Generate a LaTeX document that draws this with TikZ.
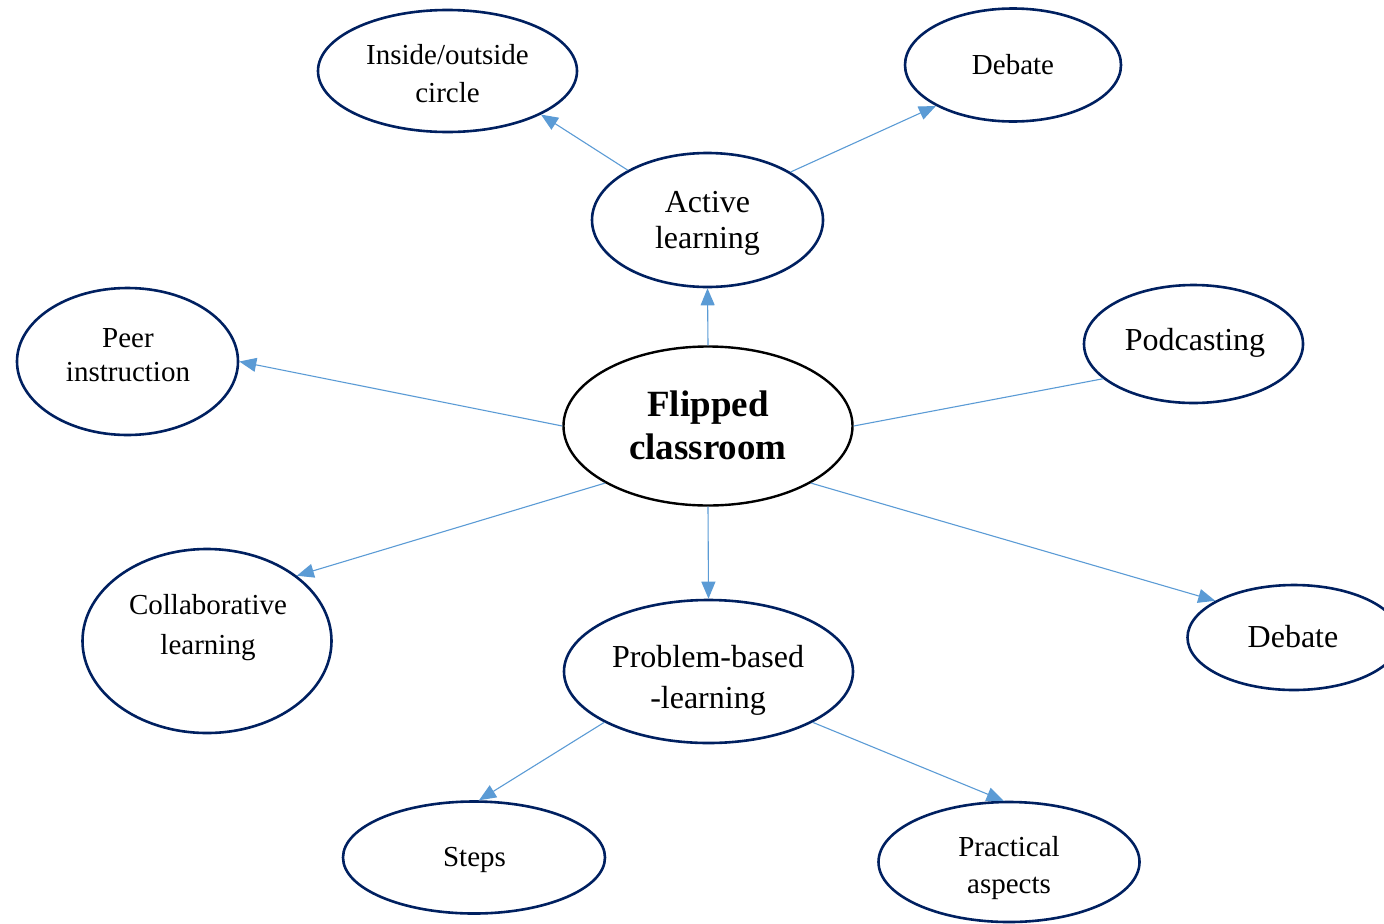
\documentclass[tikz,border=0pt]{standalone}
\usepackage{fontspec}
\setmainfont{Liberation Serif}
\usetikzlibrary{shapes.geometric,arrows.meta}
\definecolor{navy}{HTML}{002060}
\definecolor{linkblue}{HTML}{5B9BD5}
\begin{document}
\begin{tikzpicture}[x=1bp,y=-1bp,
  topic/.style={ellipse,draw=navy,line width=2.6bp,inner sep=0pt},
  core/.style={ellipse,draw=black,line width=2.4bp,inner sep=0pt},
  word/.style={anchor=base,inner sep=0pt,font=\fontsize{29bp}{35bp}\selectfont},
  bigword/.style={anchor=base,inner sep=0pt,font=\fontsize{32bp}{38bp}\selectfont},
  coreword/.style={anchor=base,inner sep=0pt,font=\fontsize{37bp}{44bp}\selectfont\bfseries},
  link/.style={draw=linkblue,line width=1.1bp,-{Triangle[length=17bp,width=14bp]}},
  plainlink/.style={draw=linkblue,line width=1.1bp}]
\useasboundingbox (0,0) rectangle (1384,923);

% ellipses
\node[topic,minimum width=259bp,minimum height=122bp] (ins)   at (447.5,71)  {};
\node[topic,minimum width=216bp,minimum height=113bp] (deb1)  at (1013,65)   {};
\node[topic,minimum width=231bp,minimum height=134bp] (act)   at (707.5,220) {};
\node[topic,minimum width=221bp,minimum height=147bp] (peer)  at (127.5,361.5){};
\node[topic,minimum width=219bp,minimum height=118bp] (pod)   at (1193.5,344){};
\node[core, minimum width=289bp,minimum height=159bp] (flip)  at (708,426)   {};
\node[topic,minimum width=249bp,minimum height=184bp] (col)   at (207,641)   {};
\node[topic,minimum width=289bp,minimum height=143bp] (pbl)   at (708.5,671.5){};
\node[topic,minimum width=213bp,minimum height=105bp] (deb2)  at (1294,637.5) {};
\node[topic,minimum width=262bp,minimum height=112bp] (steps) at (474,857.5)  {};
\node[topic,minimum width=261bp,minimum height=120bp] (prac)  at (1009,862)   {};

% labels
\node[word] (ins-a) at (447.5,64) {Inside/outside};
\node[word] (ins-b) at (447.5,102) {circle};
\node[word] (deb1-a) at (1013,74) {Debate};
\node[bigword] (act-a) at (707.5,212) {Active};
\node[bigword] (act-b) at (707.5,248) {learning};
\node[word] (peer-a) at (128,347) {Peer};
\node[word] (peer-b) at (128,381) {instruction};
\node[bigword] (pod-a) at (1195,350) {Podcasting};
\node[coreword] (flip-a) at (708,416) {Flipped};
\node[coreword] (flip-b) at (708,459) {classroom};
\node[word] (col-a) at (208,614) {Collaborative};
\node[word] (col-b) at (208,654) {learning};
\node[bigword] (pbl-a) at (708,667) {Problem-based};
\node[bigword] (pbl-b) at (708,708) {-learning};
\node[bigword] (deb2-a) at (1293,647) {Debate};
\node[word] (steps-a) at (474.5,866) {Steps};
\node[word] (prac-a) at (1009,856) {Practical};
\node[word] (prac-b) at (1009,893) {aspects};

% connectors
\draw[link] (flip.north) -- (act.south);
\draw[link] (act.148) -- (ins.335);
\draw[link] (act.30) -- (deb1.208);
\draw[link] (flip.west) -- (peer.east);
\draw[plainlink] (flip.east) -- (pod.201);
\draw[link] (flip.209) -- (col.36);
\draw[link] (flip.south) -- (pbl.north);
\draw[link] (flip.331) -- (deb2.155);
\draw[link] (pbl.206) -- (steps.85);
\draw[link] (pbl.334) -- (prac.95);
\end{tikzpicture}
\end{document}
